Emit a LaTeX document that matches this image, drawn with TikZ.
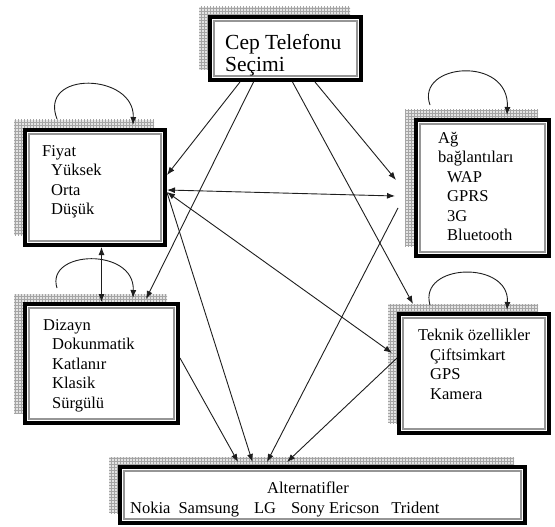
\documentclass[tikz,border=0pt]{standalone}
\usepackage{fontspec}
\setmainfont{Liberation Serif}
\usepackage{xcolor}
\usepackage{tikz}
\usetikzlibrary{arrows.meta, shadows, patterns}
\definecolor{anpGray}{RGB}{150, 150, 150}
\definecolor{anpGrid}{RGB}{165, 165, 165}
\definecolor{anpShade}{RGB}{228, 228, 228}
\definecolor{anpLine}{RGB}{30, 30, 30}
\tikzset{
    cluster/.style={
        rectangle,
        draw=black,
        line width=4pt,
        fill=white,
        inner sep=0pt,
        general shadow={fill=anpShade, shadow xshift=-11pt, shadow yshift=10pt},
        general shadow={pattern=grid, pattern color=anpGrid, shadow xshift=-11pt, shadow yshift=10pt},
        path picture={
            \draw[anpGray, line width=1.5pt]
                ([shift={(4pt,-4pt)}]path picture bounding box.north west) rectangle
                ([shift={(-4pt,4pt)}]path picture bounding box.south east);
        }
    },
    items/.style={
        font=\fontsize{16.5}{19.5}\selectfont,
        align=left,
        anchor=north west,
        inner sep=0pt
    },
    link/.style={
        -{Latex[length=8pt,width=6pt]},
        line width=0.9pt,
        draw=anpLine
    },
    both/.style={
        link,
        {Latex[length=8pt,width=6pt]}-{Latex[length=8pt,width=6pt]}
    }
}

\begin{document}
\begin{tikzpicture}[x=1pt, y=-1pt]
  \useasboundingbox (0,0) rectangle (555,527);

  % Clusters
  \node[cluster, minimum width=151pt, minimum height=63pt] (cep) at (285.5,48.5) {};
  \node[cluster, minimum width=140pt, minimum height=115pt] (fiyat) at (95,187.5) {};
  \node[cluster, minimum width=133pt, minimum height=136pt] (ag) at (482.5,188) {};
  \node[cluster, minimum width=153pt, minimum height=119pt] (dizayn) at (101.5,363.5) {};
  \node[cluster, minimum width=150pt, minimum height=119pt] (teknik) at (474,373.5) {};
  \node[cluster, minimum width=405pt, minimum height=56pt] (alt) at (322.5,495) {};

  \node[items, font=\fontsize{21.5}{22}\selectfont] (cepText) at (225,34) {Cep Telefonu\\Seçimi};
  \node[items] (fiyatText) at (42,145) {Fiyat\\\hspace*{9pt}Yüksek\\\hspace*{9pt}Orta\\\hspace*{9pt}Düşük};
  \node[items] (agText) at (438,132) {Ağ\\bağlantıları\\\hspace*{9pt}WAP\\\hspace*{9pt}GPRS\\\hspace*{9pt}3G\\\hspace*{9pt}Bluetooth};
  \node[items] (dizaynText) at (43,319) {Dizayn\\\hspace*{9pt}Dokunmatik\\\hspace*{9pt}Katlanır\\\hspace*{9pt}Klasik\\\hspace*{9pt}Sürgülü};
  \node[items] (teknikText) at (418,329) {Teknik özellikler\\\hspace*{12pt}Çiftsimkart\\\hspace*{12pt}GPS\\\hspace*{12pt}Kamera};
  \node[items] (altText) at (130,482) {\hspace*{137pt}Alternatifler\\Nokia\hspace{8pt}Samsung\hspace{15pt}LG\hspace{15pt}Sony Ericson\hspace{12pt}Trident};

  % Goal to criteria
  \draw[link] ([xshift=-45.5pt]cep.south) -- ([yshift=12.5pt]fiyat.east);
  \draw[link] ([xshift=-32pt]cep.south) -- ([xshift=44.5pt,yshift=3pt]dizayn.north);
  \draw[link] ([xshift=7pt]cep.south) -- ([xshift=-61pt,yshift=8pt]teknik.north);
  \draw[link] ([xshift=29.5pt]cep.south) -- ([xshift=-18pt,yshift=8pt]ag.west);

  % Dependencies between criteria
  \draw[both] ([yshift=-2.5pt]fiyat.east) -- ([xshift=-19pt,yshift=-8pt]ag.west);
  \draw[both] ([yshift=-4.5pt]fiyat.east) -- ([xshift=-5pt,yshift=20.5pt]teknik.west);
  \draw[both] (dizayn.north |- fiyat.south) -- (dizayn.north);

  % Criteria to alternatives
  \draw[link] ([yshift=-5pt]fiyat.east) -- ([xshift=-70pt,yshift=3pt]alt.north);
  \draw[link] ([yshift=5.5pt]dizayn.east) -- ([xshift=-84.5pt,yshift=3pt]alt.north);
  \draw[link] ([xshift=-16pt,yshift=-20pt]ag.west) -- ([xshift=-55.5pt,yshift=3pt]alt.north);
  \draw[link] ([yshift=15.5pt]teknik.west) -- ([xshift=-35.5pt,yshift=3pt]alt.north);

  % Inner dependencies
  \draw[link] ([xshift=-38pt,yshift=9pt]fiyat.north) .. controls +(-19,-49) and +(2,-52) .. ([xshift=38pt,yshift=3pt]fiyat.north);
  \draw[link] ([xshift=-44.5pt,yshift=14pt]dizayn.north) .. controls +(-12,-38) and +(2,-51) .. ([xshift=31.5pt,yshift=4pt]dizayn.north);
  \draw[link] ([xshift=-52.5pt,yshift=13pt]ag.north) .. controls +(-15,-42) and +(3,-60) .. ([xshift=24.5pt,yshift=3pt]ag.north);
  \draw[link] ([xshift=-44pt,yshift=7pt]teknik.north) .. controls +(-12,-42) and +(3,-50) .. ([xshift=33pt,yshift=2pt]teknik.north);
\end{tikzpicture}
\end{document}
